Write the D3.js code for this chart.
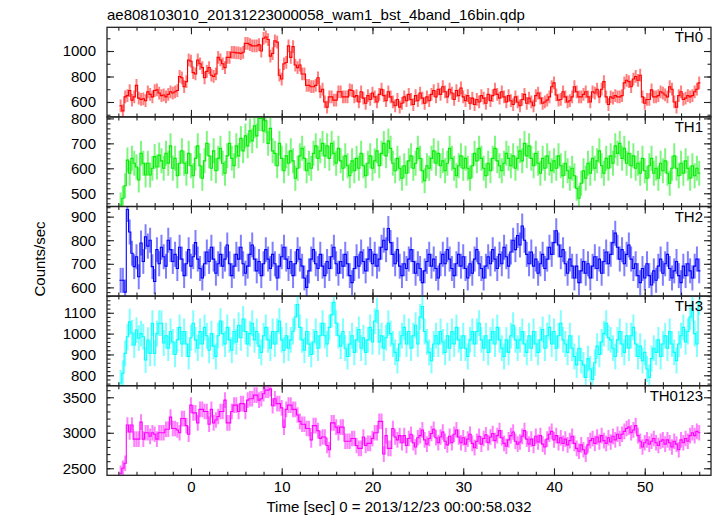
<!DOCTYPE html>
<html><head><meta charset="utf-8">
<script src="https://cdn.jsdelivr.net/npm/d3@7/dist/d3.min.js"></script>
<style>body{margin:0;background:#fff} text{font-family:"Liberation Sans",Arial,Helvetica,sans-serif}</style>
</head><body><svg id="c" width="717" height="516"></svg>
<script>
const title = "ae808103010_20131223000058_wam1_bst_4band_16bin.qdp";
const xLabel = "Time [sec] 0 = 2013/12/23 00:00:58.032";
const yLabel = "Counts/sec";
const bandNames = ["TH0", "TH1", "TH2", "TH3", "TH0123"];
const binStart = -7.875, binWidth = 0.25;
const xDomain = [-9.25, 57.3];
const xMajorTicks = [0, 10, 20, 30, 40, 50];
const xMinorTicks = d3.range(-8, 57, 2);

const th0 = [
570,530,640,650, 690,615,640,730, 630,620,625,610, 680,660,640,690,
695,670,650,655, 640,660,680,670, 680,690,800,790, 720,760,930,920,
830,820,930,900, 870,790,840,870, 810,800,820,950, 930,900,870,950,
950,990,990,985, 985,980,990,1060, 1060,1050,1040,1040, 1040,1050,1000,1100,
1110,1090,960,980, 1080,1070,810,780, 900,910,1040,950, 1034,890,870,890,
820,820,730,730, 720,720,730,790, 680,700,600,560, 640,640,615,615,
680,680,640,640, 640,695,690,640,
650,600,680,630, 590,650,620,670, 640,600,660,700, 650,610,680,640,
600,570,620,560, 590,640,610,660, 620,580,650,610, 670,630,590,640,
610,660,690,640, 700,660,720,680, 640,700,670,620, 690,650,710,640,
610,650,590,630, 580,620,600,650, 630,590,660,610, 650,700,660,630,
680,640,600,650, 610,580,640,600, 570,620,660,590, 630,600,570,650,
670,630,590,600, 615,640,720,750, 655,615,620,680, 640,600,610,640,
720,680,640,640, 660,680,640,600, 680,670,700,640, 700,760,640,580,
640,630,650,640, 640,650,750,770, 760,720,780,800, 770,810,640,590,
620,620,695,640, 640,650,680,670, 655,640,720,700, 600,560,650,680,
620,630,650,640, 650,680,700,750];

const th1 = [
453,480,530,633, 580,640,620,605, 553,660,620,573, 620,573,600,647,
605,653,630,600, 660,620,690,600, 640,570,620,670, 620,580,660,610,
570,640,690,610, 560,630,700,650, 600,670,590,640, 680,620,580,650,
700,640,610,690, 650,720,670,730, 690,750,710,770, 730,800,800,750,
790,700,760,670,
660,610,700,640, 590,650,620,670, 630,560,600,650, 680,640,590,620,
600,660,690,640, 670,700,650,690, 640,700,660,620, 680,630,600,650,
610,570,630,590, 640,600,660,610, 570,620,650,600, 630,670,610,660,
700,650,710,680, 620,590,640,600, 560,610,580,630, 650,600,620,680,
640,590,550,610, 600,640,670,620, 660,610,630,590, 620,680,640,600,
570,610,650,600, 640,600,560,610, 660,630,680,640, 600,570,620,590,
640,680,630,610, 590,620,660,640, 610,650,600,640, 670,630,700,650,
690,640,610,660, 620,580,640,600, 650,620,590,630, 600,650,610,570,
620,590,560,600, 570,520,480,540, 590,560,620,580, 640,600,630,670,
610,580,640,600, 650,620,690,660, 700,640,680,620, 660,610,650,600,
620,580,640,590, 560,610,640,580, 600,560,620,590, 630,580,540,600,
650,600,570,620, 580,630,600,560, 610,570,600,580];

const th2 = [
630,630,580,930, 835,745,688,730, 645,788,710,815, 775,800,688,625,
760,700,770,730, 690,800,760,710, 740,680,770,720, 650,700,760,690,
730,790,720,680, 640,700,750,710, 770,720,660,700, 740,690,720,780,
700,650,690,740, 720,770,700,660, 690,740,780,720, 670,710,650,700,
760,720,680,740, 700,640,690,730, 770,720,680,710, 650,700,760,720,
690,640,600,670, 720,760,700,680, 740,690,650,710, 680,730,770,700,
660,710,690,740, 700,650,620,680, 730,690,750,710, 670,720,760,700,
740,690,720,770, 800,760,850,790, 740,700,760,690, 650,700,680,720,
760,710,660,700, 680,620,670,710, 740,690,720,680, 640,700,740,700,
760,720,680,650, 700,740,690,730, 680,640,700,660, 720,760,700,680,
640,690,730,700, 760,720,680,740, 700,770,730,690, 750,800,760,820,
780,860,800,740, 700,750,690,720, 660,700,740,680, 720,770,740,790,
840,780,730,760, 700,660,720,690, 640,690,620,670, 710,660,700,640,
690,730,680,720, 660,710,750,700, 740,790,830,770, 720,760,700,740,
780,720,680,700, 650,620,680,640, 700,650,610,670, 630,690,720,660,
700,740,680,640, 670,710,650,620, 690,650,700,670, 640,690,720,670];

const th3 = [
763,810,905,985, 1057,1003,945,1017, 978,1000,985,873, 969,905,1050,905,
1000,1050,1050,955,
990,930,1010,960, 900,970,1030,950, 1010,950,890,980, 1050,970,930,1010,
950,1030,990,920, 1000,940,890,990, 1060,1000,950,1030, 970,920,1010,960,
1040,980,1070,1010, 950,1000,1050,970, 1010,940,910,990, 1030,970,930,1010,
950,1010,1060,970, 920,990,930,970, 1010,1080,1140,1030, 970,920,1010,950,
900,960,1010,930, 990,1050,990,950, 1030,1090,1150,1050, 990,940,1010,930,
890,950,990,910, 970,1020,930,980, 910,970,1030,960, 1060,1110,960,990,
930,980,1050,1000, 950,910,870,950, 990,1030,950,1010, 930,990,1040,950,
1080,1130,1010,960, 910,870,950,990, 950,1010,960,910, 990,930,1010,950,
1030,970,930,990, 930,890,970,1010, 950,1010,1050,970, 930,990,910,970,
1010,950,1030,970, 930,890,970,910, 990,1040,970,930, 970,1010,950,910,
990,930,1010,950, 910,970,1020,930, 990,1030,950,1010, 930,990,1050,970,
950,910,990,930, 890,850,930,870, 850,790,880,830, 780,860,940,900,
960,1000,1050,980, 970,930,890,970, 1010,950,910,990, 930,990,1030,950,
890,940,870,910, 830,790,880,930, 910,970,890,950, 990,930,1010,950,
910,870,950,990, 1030,960,1010,1080, 1120,1000,950,1150];

const th0123 = [
2430,2500,2570,3110, 3010,3110,2910,2910, 2910,3150,2910,3000, 3000,2950,3000,2980,
2910,3000,3000,3000, 3050,3050,3220,3060, 3060,3040,3000,3200, 3200,3100,2980,3390,
3280,3280,3140,3330, 3330,3300,3300,3120, 3330,3140,3180,3230, 3300,3300,3460,3140,
3140,3300,3390,3390, 3300,3410,3410,3300, 3460,3480,3480,3530, 3530,3460,3480,3550,
3600,3600,3620,3380, 3480,3410,3410,3350, 3080,3330,3390,3390, 3330,3330,3250,3160,
3120,3120,3060,3060, 2900,3100,3100,3030, 2920,2940,2940,2820, 2760,3140,3140,3080,
3000,3080,3080,2880, 2880,2880,2920,2920, 2820,2780,2780,2940, 2820,2850,2850,2920,
3000,3000,3160,3160, 2700,2960,2780,2780, 3060,2940,2900,2960,
2860,2960,2820,2920, 2980,2860,2800,2930, 2960,3040,2900,2840, 2920,2990,3050,2930,
2860,2940,3010,2880, 2830,2950,2860,2980, 3040,2940,2860,2930, 2840,2910,2980,2850,
2790,2880,2950,2840, 2920,2970,2860,2940, 2990,2890,2960,3030, 2930,2850,2810,2900,
2960,3010,2880,2840, 2870,2950,3030,2910, 2840,2910,2820,2950, 2870,2960,2840,2800,
2910,2980,3020,2900, 2960,2860,2930,2850, 2910,2830,2890,2950, 2850,2780,2740,2830,
2760,2700,2830,2890, 2920,2850,2940,2870, 2960,2890,2850,2930, 2870,2950,2900,2980,
2920,2980,3020,3060, 3080,3000,3040,3100, 2960,2880,2800,2860, 2900,2840,2880,2920,
2860,2820,2880,2900, 2840,2900,2860,2800, 2880,2840,2760,2900, 2860,2920,2880,2960,
3000,2960,3020,3000];

const seriesValues = [th0, th1, th2, th3, th0123];
const seriesErrors = [50, 50, 53, 62, 110];
const seriesColors = ["#ff0000", "#00ee00", "#0000ff", "#00ffff", "#ff00ff"];
const yDomains = [[483, 1186], [447, 806], [563, 943], [750, 1180], [2401, 3663]];
const yMajorStep = [200, 100, 100, 100, 500];
const yMinorStep = [100, 20, 20, 20, 100];

const svg = d3.select("#c");
const left = 107, right = 711, top0 = 27.3, panelH = 89.6;
const x = d3.scaleLinear().domain(xDomain).range([left, right]);
const majorLen = 7, minorLen = 3.5;

svg.append("text").attr("x", left).attr("y", 20).attr("font-size", 15).attr("fill", "#000").text(title);

seriesValues.forEach((vals, p) => {
  const y0 = top0 + p * panelH, y1 = y0 + panelH;
  const y = d3.scaleLinear().domain(yDomains[p]).range([y1, y0]);
  const g = svg.append("g");
  const clipId = "clip" + p;
  svg.append("clipPath").attr("id", clipId).append("rect")
    .attr("x", left).attr("y", y0).attr("width", right - left).attr("height", panelH);
  const dg = g.append("g").attr("clip-path", `url(#${clipId})`);
  const col = seriesColors[p];
  const err = seriesErrors[p];
  const pts = vals.map((v, i) => ({t: binStart + binWidth * (i + 0.5), v}));
  dg.selectAll("line.e").data(pts).enter().append("line")
    .attr("x1", d => x(d.t)).attr("x2", d => x(d.t))
    .attr("y1", d => y(d.v - err)).attr("y2", d => y(d.v + err))
    .attr("stroke", col).attr("stroke-opacity", 0.5).attr("stroke-width", 2);
  const stepPts = pts.map(d => [d.t - binWidth / 2, d.v]);
  stepPts.push([pts[pts.length - 1].t + binWidth / 2, pts[pts.length - 1].v]);
  const line = d3.line().x(d => x(d[0])).y(d => y(d[1])).curve(d3.curveStepAfter);
  dg.append("path").attr("d", line(stepPts)).attr("fill", "none")
    .attr("stroke", col).attr("stroke-width", 1.1);

  const [lo, hi] = yDomains[p];
  const yMaj = d3.range(Math.ceil(lo / yMajorStep[p]) * yMajorStep[p], hi + 1e-9, yMajorStep[p]);
  const yMin = d3.range(Math.ceil(lo / yMinorStep[p]) * yMinorStep[p], hi + 1e-9, yMinorStep[p]);

  const axisStyle = sel => { sel.select(".domain").remove(); sel.selectAll("line").attr("stroke", "#222").attr("stroke-width", 1.1); sel.selectAll("text").attr("font-size", 15).attr("fill", "#000").attr("font-family", '"Liberation Sans",Arial,sans-serif'); };
  const fmt = d3.format("d");
  g.append("g").attr("transform", `translate(${left},0)`).call(d3.axisLeft(y).tickValues(yMin).tickSize(-minorLen).tickFormat("")).call(axisStyle);
  g.append("g").attr("transform", `translate(${left},0)`).call(d3.axisLeft(y).tickValues(yMaj).tickSize(-majorLen).tickPadding(11).tickFormat(fmt)).call(axisStyle);
  g.append("g").attr("transform", `translate(${right},0)`).call(d3.axisRight(y).tickValues(yMin).tickSize(-minorLen).tickFormat("")).call(axisStyle);
  g.append("g").attr("transform", `translate(${right},0)`).call(d3.axisRight(y).tickValues(yMaj).tickSize(-majorLen).tickFormat("")).call(axisStyle);
  g.append("g").attr("transform", `translate(0,${y0})`).call(d3.axisTop(x).tickValues(xMinorTicks).tickSize(-minorLen).tickFormat("")).call(axisStyle);
  g.append("g").attr("transform", `translate(0,${y0})`).call(d3.axisTop(x).tickValues(xMajorTicks).tickSize(-majorLen).tickFormat("")).call(axisStyle);
  g.append("g").attr("transform", `translate(0,${y1})`).call(d3.axisBottom(x).tickValues(xMinorTicks).tickSize(-minorLen).tickFormat("")).call(axisStyle);
  g.append("g").attr("transform", `translate(0,${y1})`).call(d3.axisBottom(x).tickValues(xMajorTicks).tickSize(-majorLen).tickPadding(6).tickFormat(p === 4 ? fmt : "")).call(axisStyle);

  g.append("rect").attr("x", left).attr("y", y0).attr("width", right - left).attr("height", panelH)
    .attr("fill", "none").attr("stroke", "#222").attr("stroke-width", 1.3);
  g.append("text").attr("x", 703).attr("y", y0 + 15).attr("text-anchor", "end")
    .attr("font-size", 15).attr("fill", "#000").text(bandNames[p]);
});

svg.append("text").attr("x", 399).attr("y", 512).attr("text-anchor", "middle").attr("font-size", 15).attr("fill", "#000").text(xLabel);
svg.append("text").attr("transform", "translate(45,259) rotate(-90)").attr("text-anchor", "middle").attr("font-size", 15).attr("fill", "#000").text(yLabel);
</script></body></html>
